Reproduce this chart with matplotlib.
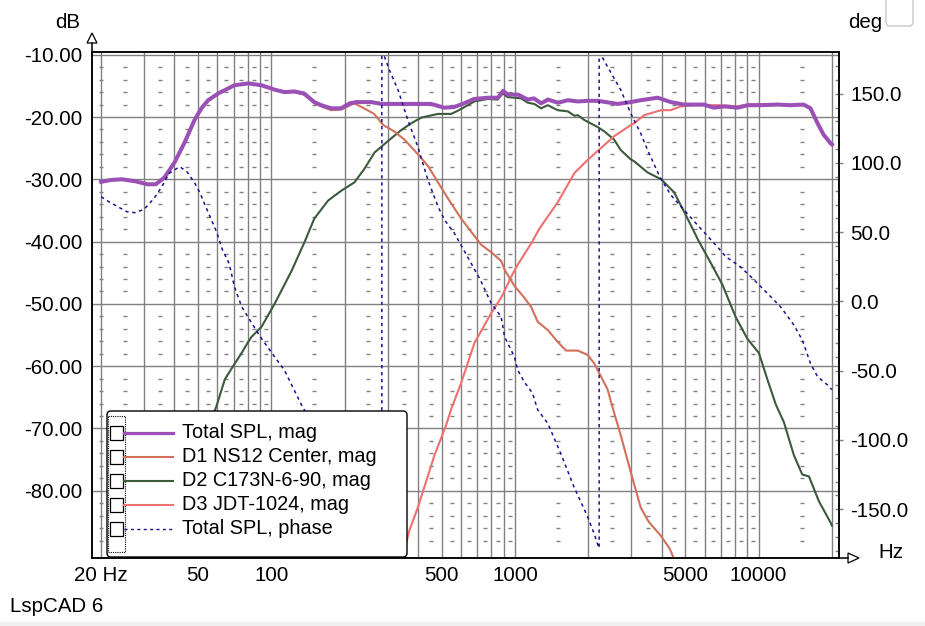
import numpy as np
import matplotlib
matplotlib.use("Agg")
import matplotlib.pyplot as plt
from matplotlib.patches import FancyBboxPatch, Rectangle, Polygon
from matplotlib.ticker import FixedLocator, MultipleLocator, NullFormatter

plt.rcParams['font.family'] = ['Liberation Sans', 'DejaVu Sans']
FS = 14.3
FS_TICK = 14.8

# Total SPL, magnitude (Hz, dB)
total_f = [20, 22, 24.3, 27.5, 31, 33.5, 36.4, 40, 44, 48.3, 51.6, 55, 60.6, 70.5, 80.5, 91,
           103, 113, 124, 136, 150, 160, 176, 193, 210, 223, 257, 283, 331, 385, 453, 512,
           562, 618, 679, 775, 851, 893, 936, 1028, 1130, 1195, 1280, 1365, 1500, 1650,
           1812, 1995, 2190, 2644, 2985, 3281, 3852, 4356, 4930, 5957, 6546, 7200, 8210,
           9020, 10190, 11970, 13530, 15290, 16330, 17450, 18460, 19720, 20000]
total_db = [-30.4, -30.1, -30.0, -30.3, -30.8, -30.8, -29.7, -27.3, -24.1, -20.5, -18.6, -17.3,
            -16.2, -14.9, -14.6, -14.9, -15.6, -16.0, -15.9, -16.2, -17.6, -18.1, -18.6, -18.6,
            -17.8, -17.6, -17.6, -17.9, -17.9, -17.9, -17.9, -18.5, -18.4, -17.8, -17.1, -16.9,
            -16.9, -15.8, -16.4, -16.4, -17.2, -17.0, -17.8, -17.2, -17.7, -17.3, -17.5, -17.4,
            -17.4, -17.9, -17.6, -17.3, -16.9, -17.6, -18.0, -18.0, -18.5, -18.3, -18.5, -18.1,
            -18.1, -18.0, -18.1, -18.0, -18.6, -21.0, -22.8, -24.2, -24.4]

# D1 NS12 Center
d1_f = [20, 22, 24.3, 27.5, 31, 33.5, 36.4, 40, 44, 48.3, 51.6, 55, 60.6, 70.5, 80.5, 91,
        103, 113, 124, 136, 150, 165, 176, 193, 219, 240, 264, 288, 319, 351, 400, 440, 483,
        531, 601, 660, 726, 798, 877, 906, 994, 1091, 1165, 1240, 1363, 1497, 1620, 1810,
        1986, 2110, 2250, 2397, 2548, 2717, 2985, 3281, 3540, 3963, 4315, 4500]
d1_db = [-30.4, -30.1, -30.0, -30.3, -30.8, -30.8, -29.7, -27.3, -24.1, -20.5, -18.6, -17.3,
         -16.2, -14.9, -14.6, -14.9, -15.6, -16.0, -16.0, -16.4, -17.8, -18.5, -18.9, -18.8,
         -17.8, -18.6, -19.5, -21.3, -22.3, -23.6, -26.0, -27.9, -30.5, -33.1, -36.3, -38.4,
         -40.5, -41.7, -43.1, -44.5, -47.1, -49.0, -50.5, -52.9, -54.2, -56.1, -57.5, -57.5,
         -58.2, -59.5, -61.6, -63.7, -67.4, -71.1, -77.0, -82.7, -85.0, -87.2, -89.3, -91.0]

# D2 C173N-6-90
d2_f = [40, 50, 55, 59.5, 64.4, 69.6, 75.4, 80.3, 82.8, 91, 103, 121, 137, 150, 171, 194,
        219, 240, 265, 300, 341, 375, 412, 482, 547, 582, 620, 681, 773, 849, 891, 933, 1059,
        1128, 1200, 1280, 1363, 1497, 1650, 1753, 1810, 1930, 2183, 2325, 2548, 2717, 2985,
        3083, 3500, 3980, 4500, 4944, 5690, 6357, 7100, 8050, 8990, 10030, 10860, 11750,
        12700, 13960, 15110, 16090, 17690, 19730, 20000]
d2_db = [-88.0, -76.0, -70.0, -66.4, -62.1, -60.0, -57.9, -56.1, -55.3, -53.7, -50.0, -44.7,
         -40.0, -36.3, -33.4, -31.8, -30.5, -28.4, -25.7, -23.9, -22.1, -21.0, -20.1, -19.5,
         -19.5, -19.0, -18.4, -17.5, -17.1, -17.2, -16.2, -16.8, -17.0, -17.7, -17.9, -18.6,
         -18.1, -18.9, -19.1, -19.8, -19.7, -20.5, -21.6, -22.3, -23.6, -25.3, -26.8, -27.1,
         -28.9, -30.0, -32.1, -35.2, -40.0, -43.4, -46.9, -52.1, -55.6, -57.9, -62.1, -66.1,
         -69.0, -74.3, -77.4, -77.7, -81.7, -85.1, -85.6]

# D3 JDT-1024
d3_f = [340, 368, 399, 467, 521, 547, 601, 681, 798, 877, 906, 975, 1026, 1165, 1260, 1497,
        1753, 1986, 2250, 2548, 2985, 3083, 3390, 3980, 4356, 4780, 5430, 6980, 8140, 9780,
        11970, 13530, 15290, 16330, 17450, 18460, 19730, 20000]
d3_db = [-92.0, -86.4, -82.7, -74.3, -69.5, -66.9, -62.7, -56.3, -51.5, -49.0, -47.9, -45.3,
         -43.7, -40.3, -37.9, -33.7, -29.0, -26.9, -25.0, -23.1, -21.3, -21.0, -19.7, -18.9,
         -18.9, -18.3, -18.1, -18.1, -18.3, -17.9, -18.0, -18.1, -18.0, -18.6, -21.0, -22.8,
         -24.3, -24.5]

# Total SPL, phase (Hz, deg) -- wrapped
phase_f = [20, 21.5, 25.5, 27.5, 30, 33, 35.5, 38, 42, 45, 48.5, 51, 53, 59.5, 63, 67, 70.5,
           75.5, 80, 90, 103, 113, 124, 134, 150, 200, 250, 284, 284, 291, 305, 331, 363, 399,
           439, 483, 514, 564, 638, 721, 798, 877, 906, 994, 1026, 1091, 1180, 1240, 1363,
           1540, 1745, 1986, 2110, 2200, 2215, 2215, 2295, 2397, 2717, 2985, 3281, 3500, 3930,
           4356, 4944, 5690, 6770, 7340, 8410, 9440, 10860, 12300, 13960, 15110, 16330, 17450,
           19190, 19730, 20000]
phase_deg = [75.6, 72, 64.8, 64.1, 66.5, 74.5, 82.9, 92.5, 97.3, 93.7, 85.3, 78.1, 70.9, 50.4,
             37.1, 27.5, 10.6, -3.8, -11, -25.5, -39.9, -49.5, -64, -76, -90, -128, -160, -180,
             178, 176.7, 167.1, 152.7, 131, 111.7, 87.7, 68.4, 58.8, 49.2, 32.3, 15.5, -1.3,
             -11, -25.5, -39.9, -49.5, -58, -66.3, -78.4, -88, -109.6, -133.8, -155.4, -167.4,
             -177, -178, 176, 175.6, 169.5, 152.7, 135.8, 121.4, 109.3, 90, 77, 66, 54, 39.5,
             32.3, 25.1, 16.7, 5.9, -3.8, -17, -27.8, -44.7, -54.3, -60.3, -62.7, -63.5]

grid_f = [20, 30, 40, 50, 60, 70, 80, 90, 100, 200, 300, 400, 500, 600, 700, 800, 900,
          1000, 2000, 3000, 4000, 5000, 6000, 7000, 8000, 9000, 10000, 20000]
xtick_f = [20, 50, 100, 500, 1000, 5000, 10000]
xtick_lab = ['20 Hz', '50', '100', '500', '1000', '5000', '10000']
db_ticks = [-80, -70, -60, -50, -40, -30, -20, -10]
deg_ticks = [-150, -100, -50, 0, 50, 100, 150]

names = ['Total SPL, mag', 'D1 NS12 Center, mag', 'D2 C173N-6-90, mag',
         'D3 JDT-1024, mag', 'Total SPL, phase']
c_total = '#9b50b6'
c_d1 = '#d2705c'
c_d2 = '#3c5a3c'
c_d3 = '#f07070'
c_ph = '#1e1090'
gridc = '#808080'

W, H = 925, 626
fig = plt.figure(figsize=(W / 100, H / 100), dpi=100)
fig.patch.set_facecolor('white')

L, R, T, B = 92, 839, 52, 558
ax = fig.add_axes([L / W, (H - B) / H, (R - L) / W, (B - T) / H])
ax.set_xscale('log')
ax.set_xlim(18.34, 21380)
ax.set_ylim(-90.8, -9.56)

for f in grid_f:
    ax.axvline(f, color=gridc, lw=1.0, zorder=1)
for v in db_ticks:
    ax.axhline(v, color=gridc, lw=1.0, zorder=1)

# short minor dashes every 2 dB, halfway between the vertical grid lines
dash_f = [20] + [g + (grid_f[i + 1] - g) / 2 for i, g in enumerate(grid_f[:-1])]
dash_db = [v for v in range(-88, -10, 2) if v % 10 != 0]
dx, dy = np.meshgrid(dash_f, dash_db)
ax.plot(dx.ravel(), dy.ravel(), ls='none', marker='_', ms=3.2, mew=1.0, color=gridc, zorder=1)

ax.plot(d2_f, d2_db, color=c_d2, lw=1.5, zorder=3)
ax.plot(d3_f, d3_db, color=c_d3, lw=1.5, zorder=3)
ax.plot(d1_f, d1_db, color=c_d1, lw=1.5, zorder=3)
ax.plot(total_f, total_db, color=c_total, lw=2.9, zorder=4)

ax.xaxis.set_major_locator(FixedLocator(xtick_f))
ax.xaxis.set_minor_formatter(NullFormatter())
ax.set_xticks(xtick_f)
ax.set_xticklabels(xtick_lab)
ax.tick_params(axis='x', which='both', length=0, pad=6, labelsize=FS_TICK)
ax.set_yticks(db_ticks)
ax.set_yticklabels([f'{v:.2f}' for v in db_ticks])
ax.tick_params(axis='y', length=0, pad=7, labelsize=FS_TICK)
for s in ax.spines.values():
    s.set_color('black')
    s.set_linewidth(1.1)

ax2 = ax.twinx()
ax2.set_ylim(-185.2, 180.1)
ax2.plot(phase_f, phase_deg, color=c_ph, lw=1.1, ls=(0, (2.2, 2.4)), zorder=2)
ax2.set_yticks(deg_ticks)
ax2.set_yticklabels([f'{v:.1f}' for v in deg_ticks])
ax2.yaxis.set_minor_locator(MultipleLocator(10))
ax2.tick_params(axis='y', which='major', direction='inout', length=6, width=1.0,
                color=gridc, pad=5, labelsize=FS_TICK)
ax2.tick_params(axis='y', which='minor', direction='in', length=3, width=1.0, color=gridc)
for s in ax2.spines.values():
    s.set_color('black')
    s.set_linewidth(1.1)

# overlay in pixel coordinates: legend, axis arrows, labels
ov = fig.add_axes([0, 0, 1, 1], zorder=10)
ov.set_xlim(0, W)
ov.set_ylim(H, 0)
ov.axis('off')
ov.patch.set_alpha(0)

ov.add_patch(FancyBboxPatch((107, 411), 300, 146, boxstyle='round,pad=0,rounding_size=4',
                            fc='white', ec='black', lw=1.0))
ov.add_patch(Rectangle((107.5, 416), 17, 136, fill=False, ec='black', lw=0.8, ls=(0, (1, 1))))
styles = [(c_total, 2.3, '-'), (c_d1, 1.5, '-'), (c_d2, 1.5, '-'), (c_d3, 1.5, '-'),
          (c_ph, 1.0, (0, (2.2, 2.4)))]
for i, (name, (c, lw, ls)) in enumerate(zip(names, styles)):
    yc = 433 + 24 * i
    ov.add_patch(Rectangle((109.5, yc - 6.7), 13.4, 13.4, fc='white', ec='black', lw=0.9))
    ov.plot([124, 173], [yc, yc], color=c, lw=lw, ls=ls)
    ov.text(182, yc, name, va='center', ha='left', fontsize=FS)

ov.plot([92, 92], [52, 43], color='black', lw=1.1)
ov.add_patch(Polygon([[87, 43], [97, 43], [92, 33]], closed=True, fc='white', ec='black', lw=0.9))
ov.plot([839, 848], [558, 558], color='black', lw=1.1)
ov.add_patch(Polygon([[848, 553], [848, 563], [859, 558]], closed=True, fc='white', ec='black', lw=0.9))

ov.text(68, 22, 'dB', ha='center', va='center', fontsize=FS_TICK)
ov.text(865, 22, 'deg', ha='center', va='center', fontsize=FS_TICK)
ov.text(891, 553, 'Hz', ha='center', va='center', fontsize=FS_TICK)
ov.text(10, 607, 'LspCAD 6', ha='left', va='center', fontsize=FS_TICK)

ov.add_patch(FancyBboxPatch((886, -8), 27, 34, boxstyle='round,pad=0,rounding_size=4',
                            fc='white', ec='#c8c8c8', lw=1.0))
ov.add_patch(Rectangle((0, 621.5), W, 6, fc='#f0f0f0', ec='none'))

fig.savefig('out.png', dpi=100)
